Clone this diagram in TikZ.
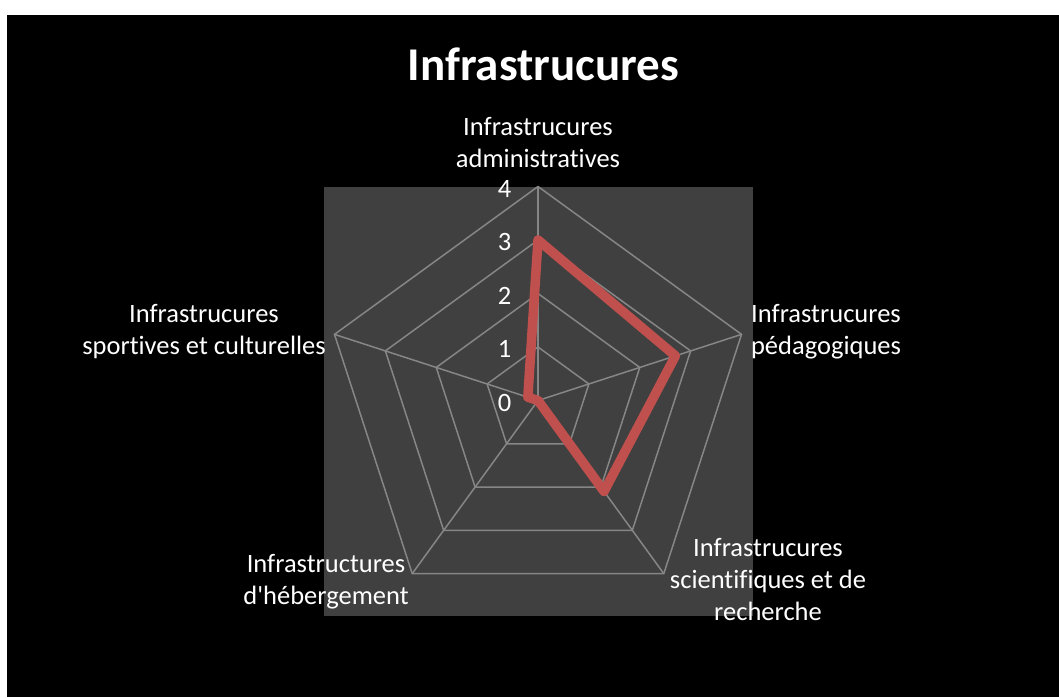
\documentclass[tikz,border=0pt]{standalone}
\usepackage{fontspec}
\setmainfont{Carlito}[Ligatures={NoCommon}]

\definecolor{plotgray}{RGB}{64,64,64}
\definecolor{gridgray}{RGB}{134,134,134}
\definecolor{seriesred}{RGB}{192,80,77}

\tikzset{
  axislabel/.style={text=white, align=center, anchor=north, inner sep=0pt, font=\fontsize{26.5}{32}\selectfont},
  ticklabel/.style={text=white, inner sep=0pt, font=\fontsize{26.5}{32}\selectfont},
  gridline/.style={draw=gridgray, line width=1.5pt},
  series/.style={draw=seriesred, line width=9.5pt, line join=round}
}

\begin{document}
\begin{tikzpicture}[x=1pt, y=-1pt]
 	% Define the background
 	\fill[white] (0,0) rectangle (1059,697);
 	\fill[black] (7,15) rectangle (1059,697);
 	\fill[plotgray] (324,187) rectangle (753,616);
 	\useasboundingbox (0,0) rectangle (1059,697);
 	
 	% Define the axes and the data
 	\begin{scope}[shift={(538,400.5)}]
 	\coordinate (o) at (0,0);
 	\foreach \k in {0,...,4} {
 		\coordinate (a\k) at (72*\k-90:214);
 	}
 	\coordinate (d0) at (-90:3*53.5);
 	\coordinate (d1) at (-18:2.7*53.5);
 	\coordinate (d2) at (54:2.1*53.5);
 	\coordinate (d3) at (126:0);
 	\coordinate (d4) at (198:0.2*53.5);
 	
 	% Draw the grid
 	\foreach \r [evaluate=\r as \rr using \r*53.5] in {1,...,4} {
 		\draw[gridline] (-90:\rr) -- (-18:\rr) -- (54:\rr) -- (126:\rr) -- (198:\rr) -- cycle;
 	}
 	\foreach \k in {0,...,4} {
 		\draw[gridline] (o) -- (a\k);
 	}
 	
 	% Draw the series
 	\draw[series] (d0) -- (d1) -- (d2) -- (d3) -- (d4) -- cycle;
 	\end{scope}
 	
 	% Tick labels
 	\foreach \v in {0,...,4} {
 		\node[ticklabel] (t\v) at (504.5, 402.5-53.5*\v) {\v};
 	}
 	
 	% Title and axis labels
 	\node[text=white, anchor=north, inner sep=0pt, font=\bfseries\fontsize{47}{56}\selectfont] (title) at (543.5,48) {Infrastrucures};
 	\node[axislabel] (admin) at (538,117) {Infrastrucures\\administratives};
 	\node[axislabel] (peda) at (826,304) {Infrastrucures\\pédagogiques};
 	\node[axislabel] (sci) at (768,538) {Infrastrucures\\scientifiques et de\\recherche};
 	\node[axislabel] (heberg) at (326,554) {Infrastructures\\d\textquotesingle hébergement};
 	\node[axislabel] (sport) at (204,304) {Infrastrucures\\sportives et culturelles};
 \end{tikzpicture}
\end{document}
